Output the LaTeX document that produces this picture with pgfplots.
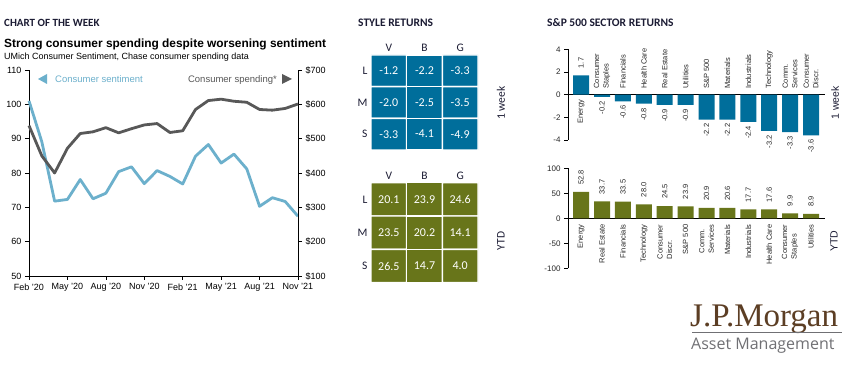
\documentclass[border=0pt]{standalone}
\usepackage{pgfplots}
\usepackage{pgfplotstable}
\pgfplotsset{compat=1.18}
\usepackage{fontspec}
\setmainfont{Liberation Sans}
\newfontfamily\carlito{Carlito}
\newfontfamily\jpserif{Liberation Serif}
\newfontfamily\opensans{Open Sans}
\definecolor{jpblue}{RGB}{0,110,155}
\definecolor{jpolive}{RGB}{104,117,26}
\definecolor{sentblue}{RGB}{108,176,204}
\definecolor{spendgray}{RGB}{88,88,88}
\definecolor{navy}{RGB}{28,28,52}
\definecolor{labtext}{RGB}{40,40,40}
\definecolor{jpbrown}{RGB}{92,62,36}
\definecolor{amgray}{RGB}{112,112,116}
\protected\def\lCS{Consumer\\Staples}
\protected\def\lCD{Consumer\\Discr.}
\protected\def\lCM{Comm.\\Services}

\pgfplotstableread{
m sent spend
0 101.0 538
1 89.1 450
2 71.8 400
3 72.3 472
4 78.1 515
5 72.5 520
6 74.1 532
7 80.4 517
8 81.8 529
9 76.9 540
10 80.7 544
11 79.0 518
12 76.8 523
13 84.9 585
14 88.3 611
15 82.9 615
16 85.5 609
17 81.2 606
18 70.3 585
19 72.8 583
20 71.7 588
21 67.4 601
}\chartdata

\pgfplotstableread{
x y v
0 0 -1.2
1 0 -2.2
2 0 -3.3
0 1 -2.0
1 1 -2.5
2 1 -3.5
0 2 -3.3
1 2 -4.1
2 2 -4.9
}\styleweek

\pgfplotstableread{
x y v
0 0 20.1
1 0 23.9
2 0 24.6
0 1 23.5
1 1 20.2
2 1 14.1
0 2 26.5
1 2 14.7
2 2 4.0
}\styleytd

\pgfplotstableread{
x v
0 1.7
1 -0.2
2 -0.6
3 -0.8
4 -0.9
5 -0.9
6 -2.2
7 -2.2
8 -2.4
9 -3.2
10 -3.3
11 -3.6
}\wkbars

\pgfplotstableread{
x y lab
0 0 Energy
}\wklabbelow

\pgfplotstableread{
x y lab
1 0 \lCS
2 0 Financials
3 0 {Health Care}
4 0 {Real Estate}
5 0 Utilities
6 0 {S\&P 500}
7 0 Materials
8 0 Industrials
9 0 Technology
10 0 \lCM
11 0 \lCD
}\wklababove

\pgfplotstableread{
x v y lab
0 52.8 0 Energy
1 33.7 0 {Real Estate}
2 33.5 0 Financials
3 28.0 0 Technology
4 24.5 0 \lCD
5 23.9 0 {S\&P 500}
6 20.9 0 \lCM
7 20.6 0 Materials
8 17.7 0 Industrials
9 17.6 0 {Health Care}
10 9.9 0 \lCS
11 8.9 0 Utilities
}\ytd

\pgfplotsset{
  heat/.style={scale only axis, width=107pt,
    xmin=-0.5, xmax=2.5, ymin=-0.5, ymax=2.5, y dir=reverse,
    axis line style={draw=none}, major tick length=0pt, tick style={draw=none},
    xtick={0,1,2}, xticklabels={V,B,G}, xticklabel pos=right,
    ytick={0,1,2}, yticklabels={L,M,S}, ytick pos=left,
    tick label style={font=\carlito\fontsize{11.5}{12}\selectfont, text=navy},
    clip=false},
  heatplot/.style={matrix plot*, mesh/cols=3, point meta=explicit,
    draw=white, line width=1.4pt,
    nodes near coords={\pgfmathprintnumber[fixed,fixed zerofill,precision=1,assume math mode=true]{\pgfplotspointmeta}},
    nodes near coords style={anchor=center, font=\carlito\fontsize{12}{12}\selectfont, text=white}},
  sector/.style={scale only axis, width=257pt, xmin=-0.63, xmax=11.67,
    axis y line=left, axis x line=none, axis line style={-, black, line width=0.7pt},
    xtick=\empty, ytick pos=left, tick align=outside, major tick length=4pt,
    tick style={black, line width=0.7pt},
    yticklabel style={font=\fontsize{8}{9}\selectfont, text=labtext},
    extra y ticks={0}, extra y tick labels={},
    extra y tick style={grid=major, major grid style={black, line width=0.7pt}, major tick length=0pt},
    /pgf/number format/assume math mode=true, clip=false},
  vallab/.style={draw=none, mark=none,
    nodes near coords={\pgfmathprintnumber[fixed,fixed zerofill,precision=1,assume math mode=true]{\pgfplotspointmeta}}},
  catlab/.style={draw=none, mark=none, point meta=explicit symbolic,
    nodes near coords={\pgfplotspointmeta}},
}

\begin{document}
\begin{tikzpicture}
\useasboundingbox (0,0) rectangle (863pt,369pt);
\fill[white] (0,0) rectangle (863pt,369pt);

% headers
\node[anchor=base west, inner sep=0pt, text=navy, font=\carlito\bfseries\fontsize{11}{12}\selectfont] at (4pt,342pt) {CHART OF THE WEEK};
\node[anchor=base west, inner sep=0pt, text=navy, font=\carlito\bfseries\fontsize{11.5}{12}\selectfont] at (358pt,342pt) {STYLE RETURNS};
\node[anchor=base west, inner sep=0pt, text=navy, font=\carlito\bfseries\fontsize{11.5}{12}\selectfont] at (547pt,342pt) {S\&P 500 SECTOR RETURNS};

\node[anchor=base west, inner sep=0pt, font=\bfseries\fontsize{11.9}{12}\selectfont] at (4pt,321pt) {Strong consumer spending despite worsening sentiment};
\node[anchor=base west, inner sep=0pt, font=\fontsize{9}{10}\selectfont] at (4pt,309pt) {UMich Consumer Sentiment, Chase consumer spending data};

% legend of left chart
\fill[sentblue] (38pt,290pt) -- (47pt,295pt) -- (47pt,285pt) -- cycle;
\node[anchor=base west, inner sep=0pt, text=sentblue, font=\fontsize{9.5}{10}\selectfont] at (55pt,286.5pt) {Consumer sentiment};
\fill[spendgray] (282pt,295pt) -- (282pt,285pt) -- (292pt,290pt) -- cycle;
\node[anchor=base east, inner sep=0pt, text=spendgray, font=\fontsize{9.5}{10}\selectfont] at (277pt,286.5pt) {Consumer spending*};

% left chart: sentiment (left axis)
\begin{axis}[at={(29pt,93pt)}, anchor=south west, scale only axis, width=269pt, height=206pt,
  xmin=0, xmax=21, ymin=50, ymax=110,
  axis x line*=bottom, axis y line*=left, axis line style={-, black, line width=0.6pt},
  xtick={0,3,...,21}, xticklabels={Feb '20,May '20,Aug '20,Nov '20,Feb '21,May '21,Aug '21,Nov '21},
  ytick={50,60,...,110},
  tick align=outside, major tick length=4pt, tick style={black, line width=0.6pt},
  tick label style={font=\fontsize{9}{10}\selectfont},
  /pgf/number format/assume math mode=true, clip=false]
\addplot[sentblue, line width=2.8pt, line join=round, mark=none] table[x=m,y=sent] {\chartdata};
\end{axis}
% left chart: spending (right axis)
\begin{axis}[at={(29pt,93pt)}, anchor=south west, scale only axis, width=269pt, height=206pt,
  xmin=0, xmax=21, ymin=100, ymax=700,
  axis x line=none, axis y line*=right, axis line style={-, black, line width=0.6pt},
  ytick={100,200,...,700}, yticklabels={\$100,\$200,\$300,\$400,\$500,\$600,\$700},
  tick align=outside, major tick length=4pt, tick style={black, line width=0.6pt},
  tick label style={font=\fontsize{9}{10}\selectfont},
  /pgf/number format/assume math mode=true, clip=false]
\addplot[spendgray, line width=2.8pt, line join=round, mark=none] table[x=m,y=spend] {\chartdata};
\end{axis}

% style returns heatmaps
\begin{axis}[heat, at={(371pt,219pt)}, anchor=south west, height=95pt,
  colormap={cb}{color=(jpblue) color=(jpblue)}]
\addplot[heatplot] table[x=x,y=y,meta=v] {\styleweek};
\end{axis}
\begin{axis}[heat, at={(371pt,86.3pt)}, anchor=south west, height=100pt,
  colormap={co}{color=(jpolive) color=(jpolive)}]
\addplot[heatplot] table[x=x,y=y,meta=v] {\styleytd};
\end{axis}
\node[rotate=90, text=navy, font=\carlito\fontsize{11.5}{12}\selectfont] at (501pt,266pt) {1 week};
\node[rotate=90, text=navy, font=\carlito\fontsize{11.5}{12}\selectfont] at (501pt,128pt) {YTD};

% sector returns: 1 week
\begin{axis}[sector, at={(568pt,229pt)}, anchor=south west, height=90.7pt,
  ymin=-4, ymax=4, ytick={-4,-2,0,2,4}]
\addplot[ybar, bar width=16pt, bar shift=0pt, fill=jpblue, draw=none] table[x=x,y=v] {\wkbars};
\addplot[vallab, restrict y to domain=0:10,
  nodes near coords style={rotate=90, anchor=west, inner xsep=7pt, inner ysep=0pt, font=\fontsize{7.5}{9}\selectfont, text=labtext}]
  table[x=x,y=v] {\wkbars};
\addplot[vallab, restrict y to domain=-10:0,
  nodes near coords style={rotate=90, anchor=east, inner xsep=4pt, inner ysep=0pt, font=\fontsize{7.5}{9}\selectfont, text=labtext}]
  table[x=x,y=v] {\wkbars};
\addplot[catlab,
  nodes near coords style={rotate=90, anchor=east, align=left, inner xsep=5pt, inner ysep=0pt, font=\fontsize{7.5}{9.5}\selectfont, text=labtext}]
  table[x=x,y=y,meta=lab] {\wklabbelow};
\addplot[catlab,
  nodes near coords style={rotate=90, anchor=west, align=left, inner xsep=6pt, inner ysep=0pt, font=\fontsize{7.5}{9.5}\selectfont, text=labtext}]
  table[x=x,y=y,meta=lab] {\wklababove};
\end{axis}
\node[rotate=90, text=navy, font=\fontsize{10.5}{12}\selectfont] at (835pt,266pt) {1 week};

% sector returns: YTD
\begin{axis}[sector, at={(568pt,100.7pt)}, anchor=south west, height=100pt,
  ymin=-100, ymax=100, ytick={-100,-50,0,50,100}]
\addplot[ybar, bar width=16pt, bar shift=0pt, fill=jpolive, draw=none] table[x=x,y=v] {\ytd};
\addplot[vallab,
  nodes near coords style={rotate=90, anchor=west, inner xsep=7pt, inner ysep=0pt, font=\fontsize{7.5}{9}\selectfont, text=labtext}]
  table[x=x,y=v] {\ytd};
\addplot[catlab,
  nodes near coords style={rotate=90, anchor=east, align=left, inner xsep=6pt, inner ysep=0pt, font=\fontsize{7.5}{9.5}\selectfont, text=labtext}]
  table[x=x,y=y,meta=lab] {\ytd};
\end{axis}
\node[rotate=90, text=navy, font=\fontsize{10.5}{12}\selectfont] at (834pt,128pt) {YTD};

% logo
\node[anchor=base west, inner sep=0pt, text=jpbrown, font=\jpserif\fontsize{33}{34}\selectfont] at (690pt,42.3pt) {J.P.Morgan};
\draw[amgray, line width=0.8pt] (692pt,36.2pt) -- (842pt,36.2pt);
\node[anchor=base west, inner sep=0pt, text=amgray, font=\opensans\fontsize{16}{17}\selectfont] at (691pt,19pt) {Asset Management};
\end{tikzpicture}
\end{document}
